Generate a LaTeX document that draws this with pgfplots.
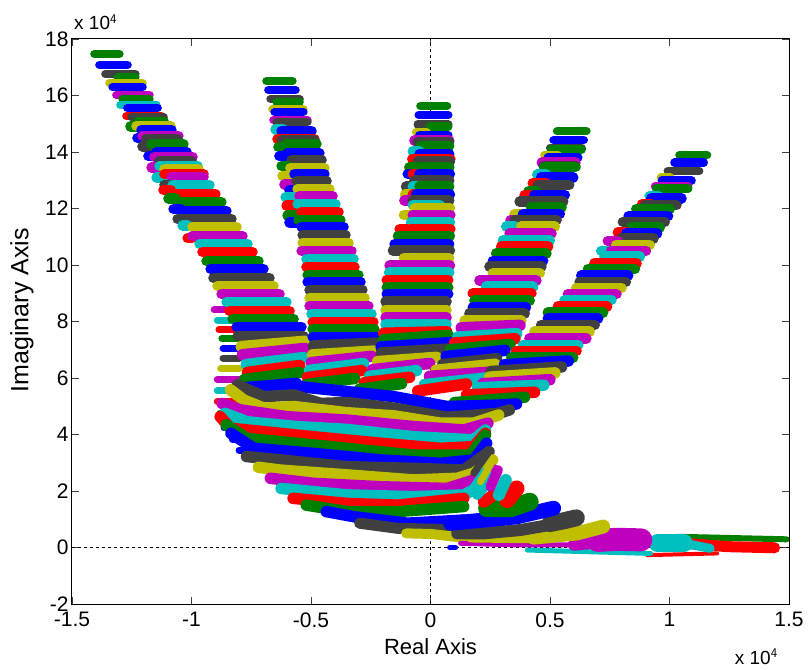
\documentclass[border=0pt]{standalone}
\usepackage{pgfplots}
\pgfplotsset{compat=1.18}
\usepackage{fontspec}
\setmainfont{Liberation Sans}
\definecolor{B}{rgb}{0,0,1}
\definecolor{G}{rgb}{0,0.5,0}
\definecolor{R}{rgb}{1,0,0}
\definecolor{C}{rgb}{0,0.75,0.75}
\definecolor{M}{rgb}{0.75,0,0.75}
\definecolor{Y}{rgb}{0.75,0.75,0}
\definecolor{K}{rgb}{0.25,0.25,0.25}
% a row: colour, left x, right x, imaginary value
\newcommand\rw[4]{\addplot[color=#1,line width=10.5pt,line cap=round,shorten <=4pt,shorten >=4pt] coordinates {(#2,#4)(#3,#4)};}
% a thin row at the top of a finger
\newcommand\rt[4]{\addplot[color=#1,line width=8.5pt,line cap=round,shorten <=4pt,shorten >=4pt] coordinates {(#2,#4)(#3,#4)};}
% a left-edge dot
\newcommand\rd[4]{\addplot[color=#1,line width=7pt,line cap=round] coordinates {(#2,#4)(#3,#4)};}
% a tilted row: colour, x1, y1, x2, y2
\newcommand\tl[5]{\addplot[color=#1,line width=11.5pt,line cap=round,shorten <=4pt,shorten >=4pt] coordinates {(#2,#3)(#4,#5)};}
% a long band: colour, width, coordinates
\newcommand\lb[3]{\addplot[color=#1,line width=#2pt,line cap=round,line join=round] coordinates {#3};}
\begin{document}
\begin{tikzpicture}[x=1pt,y=1pt]
\path[use as bounding box] (-72,-65) rectangle (736,604);
\begin{axis}[
  at={(0,0)},anchor=south west,
  scale only axis,width=717pt,height=565pt,
  xmin=-1.5,xmax=1.5,ymin=-2,ymax=18,
  xtick={-1.5,-1,-0.5,0,0.5,1,1.5},
  xticklabels={{-1.5},{-1},{-0.5},{0},{0.5},{1},{1.5}},
  ytick={-2,0,2,4,6,8,10,12,14,16,18},
  yticklabels={{-2},{0},{2},{4},{6},{8},{10},{12},{14},{16},{18}},
  tick align=inside,major tick length=7pt,
  tick style={color=K,line width=0.8pt},
  axis line style={color=black,line width=1pt},
  ticklabel style={font=\fontsize{21}{24}\selectfont},
  xticklabel style={yshift=-5pt},
  xlabel={Real Axis},ylabel={Imaginary Axis},
  every axis x label/.style={at={(axis description cs:0.5,-0.076)},anchor=center,font=\fontsize{22}{24}\selectfont},
  every axis y label/.style={at={(axis description cs:-0.07,0.52)},anchor=center,rotate=90,font=\fontsize{25}{28}\selectfont},
]
\addplot[black,dashed,line width=0.8pt] coordinates {(-1.5,0)(1.5,0)};
\addplot[black,dashed,line width=0.8pt] coordinates {(0,-2)(0,18)};
% left-edge dots of the first finger and the body
\rd{M}{-0.905}{-0.83}{8.41}
\rd{C}{-0.892}{-0.82}{8.05}
\rd{R}{-0.885}{-0.81}{7.70}
\rd{G}{-0.873}{-0.80}{7.40}
\rd{B}{-0.868}{-0.80}{7.05}
\rd{K}{-0.868}{-0.80}{6.70}
\rd{Y}{-0.878}{-0.80}{6.34}
\rd{M}{-0.892}{-0.80}{5.95}
\rd{C}{-0.892}{-0.80}{5.54}
\rd{R}{-0.892}{-0.80}{5.16}
\rd{G}{-0.882}{-0.80}{4.75}
\rd{B}{-0.864}{-0.78}{4.24}
\rd{B}{-0.829}{-0.75}{3.83}
\rd{B}{-0.801}{-0.72}{3.45}
% finger 1
\rt{G}{-1.423}{-1.285}{17.47}
\rt{B}{-1.402}{-1.251}{17.08}
\rt{K}{-1.377}{-1.218}{16.76}
\rt{G}{-1.326}{-1.218}{16.65}
\rt{Y}{-1.360}{-1.188}{16.44}
\rt{B}{-1.347}{-1.188}{16.30}
\rt{M}{-1.331}{-1.159}{16.02}
\rt{G}{-1.305}{-1.159}{15.88}
\rt{C}{-1.314}{-1.130}{15.66}
\rt{B}{-1.285}{-1.125}{15.56}
\rt{R}{-1.289}{-1.109}{15.27}
\rt{K}{-1.268}{-1.100}{15.24}
\rt{G}{-1.243}{-1.096}{15.10}
\rw{G}{-1.272}{-1.20}{14.90}
\rw{Y}{-1.247}{-1.071}{14.92}
\rw{B}{-1.226}{-1.067}{14.78}
\rw{B}{-1.243}{-1.18}{14.50}
\rw{M}{-1.222}{-1.038}{14.57}
\rw{K}{-1.205}{-1.042}{14.46}
\rw{Y}{-1.184}{-1.017}{14.11}
\rw{K}{-1.222}{-1.16}{14.20}
\rw{G}{-1.184}{-1.017}{14.28}
\rw{B}{-1.197}{-1.13}{13.85}
\rw{B}{-1.163}{-1.004}{14.00}
\rw{M}{-1.172}{-0.979}{13.83}
\rw{K}{-1.151}{-0.983}{13.68}
\rw{M}{-1.184}{-1.12}{13.45}
\rw{C}{-1.151}{-0.958}{13.51}
\rw{Y}{-1.130}{-0.954}{13.40}
\rw{C}{-1.163}{-1.10}{13.10}
\rw{R}{-1.130}{-0.933}{13.22}
\rw{M}{-1.100}{-0.933}{13.12}
\rw{K}{-1.130}{-1.06}{12.84}
\rw{C}{-1.096}{-0.908}{12.83}
\rw{R}{-1.134}{-1.07}{12.65}
\rw{R}{-1.075}{-0.883}{12.51}
\rw{G}{-1.113}{-1.05}{12.35}
\rw{G}{-1.075}{-0.858}{12.23}
\rw{B}{-1.092}{-1.03}{11.98}
\rw{B}{-1.046}{-0.837}{11.91}
\rw{K}{-1.075}{-1.00}{11.63}
\rw{K}{-1.025}{-0.816}{11.63}
\rw{C}{-1.054}{-1.00}{11.40}
\rw{Y}{-1.013}{-0.795}{11.35}
\rw{R}{-1.033}{-0.98}{10.95}
\rw{M}{-1.013}{-0.770}{11.03}
\rw{C}{-0.983}{-0.749}{10.74}
\rw{R}{-0.971}{-0.728}{10.46}
\rw{G}{-0.954}{-0.703}{10.14}
\rw{B}{-0.937}{-0.682}{9.86}
\rw{K}{-0.925}{-0.657}{9.54}
\rw{Y}{-0.908}{-0.640}{9.26}
\rw{M}{-0.891}{-0.615}{8.97}
\rw{C}{-0.870}{-0.586}{8.69}
\rw{R}{-0.858}{-0.573}{8.37}
\rw{G}{-0.845}{-0.556}{8.09}
\rw{B}{-0.828}{-0.523}{7.81}
\rw{K}{-0.824}{-0.515}{7.49}
\tl{Y}{-0.808}{7.10}{-0.510}{7.31}
\tl{M}{-0.803}{6.81}{-0.510}{7.06}
\tl{C}{-0.787}{6.46}{-0.515}{6.74}
\tl{R}{-0.782}{6.18}{-0.531}{6.46}
\tl{G}{-0.795}{5.93}{-0.531}{6.21}
\tl{B}{-0.787}{5.65}{-0.544}{5.82}
% finger 2
\rt{G}{-0.703}{-0.561}{16.51}
\rt{B}{-0.695}{-0.548}{16.19}
\rt{K}{-0.686}{-0.531}{15.88}
\rt{G}{-0.661}{-0.531}{15.77}
\rt{Y}{-0.678}{-0.515}{15.52}
\rt{B}{-0.669}{-0.515}{15.42}
\rt{M}{-0.674}{-0.498}{15.13}
\rt{K}{-0.661}{-0.498}{15.06}
\rw{C}{-0.665}{-0.60}{14.80}
\rw{B}{-0.640}{-0.481}{14.74}
\rw{R}{-0.657}{-0.469}{14.46}
\rw{K}{-0.640}{-0.469}{14.42}
\rw{G}{-0.653}{-0.59}{14.18}
\rw{G}{-0.619}{-0.460}{14.28}
\rw{B}{-0.649}{-0.58}{13.85}
\rw{B}{-0.615}{-0.448}{13.96}
\rw{K}{-0.598}{-0.439}{13.72}
\rw{G}{-0.640}{-0.58}{13.50}
\rw{Y}{-0.603}{-0.427}{13.43}
\rw{Y}{-0.636}{-0.57}{13.15}
\rw{B}{-0.586}{-0.427}{13.22}
\rw{M}{-0.628}{-0.56}{12.85}
\rw{K}{-0.577}{-0.418}{12.97}
\rw{B}{-0.607}{-0.54}{12.65}
\rw{Y}{-0.573}{-0.406}{12.69}
\rw{C}{-0.623}{-0.55}{12.40}
\rw{M}{-0.565}{-0.393}{12.44}
\rw{R}{-0.619}{-0.55}{12.10}
\rw{C}{-0.573}{-0.381}{12.16}
\rw{G}{-0.615}{-0.54}{11.75}
\rw{R}{-0.556}{-0.368}{11.88}
\rw{B}{-0.607}{-0.53}{11.50}
\rw{G}{-0.569}{-0.360}{11.59}
\rw{B}{-0.556}{-0.347}{11.35}
\rw{K}{-0.552}{-0.339}{11.06}
\rw{Y}{-0.552}{-0.326}{10.78}
\rw{M}{-0.556}{-0.314}{10.50}
\rw{C}{-0.536}{-0.305}{10.21}
\rw{R}{-0.536}{-0.301}{9.93}
\rw{G}{-0.531}{-0.285}{9.65}
\rw{B}{-0.531}{-0.276}{9.40}
\rw{K}{-0.523}{-0.268}{9.12}
\rw{Y}{-0.523}{-0.259}{8.83}
\rw{M}{-0.523}{-0.243}{8.55}
\rw{C}{-0.515}{-0.230}{8.27}
\rw{R}{-0.510}{-0.222}{7.98}
\rw{G}{-0.510}{-0.218}{7.73}
\rw{B}{-0.510}{-0.209}{7.45}
\tl{K}{-0.506}{7.13}{-0.209}{7.24}
\tl{Y}{-0.510}{6.81}{-0.222}{6.96}
\tl{M}{-0.515}{6.53}{-0.230}{6.78}
\tl{C}{-0.523}{6.25}{-0.264}{6.53}
\tl{R}{-0.531}{6.00}{-0.272}{6.28}
\tl{G}{-0.536}{5.75}{-0.301}{6.00}
% finger 3
\rt{G}{-0.059}{0.086}{15.63}
\rt{B}{-0.066}{0.091}{15.31}
\rt{K}{-0.070}{0.091}{14.98}
\rt{G}{-0.020}{0.091}{14.90}
\rt{Y}{-0.077}{0.000}{14.70}
\rt{B}{-0.063}{0.091}{14.60}
\rw{M}{-0.084}{0.095}{14.40}
\rw{K}{-0.070}{0.095}{14.35}
\rw{G}{-0.056}{0.095}{14.22}
\rw{C}{-0.091}{-0.03}{14.02}
\rw{B}{-0.063}{0.095}{13.93}
\rw{R}{-0.093}{0.100}{13.75}
\rw{K}{-0.070}{0.098}{13.67}
\rw{G}{-0.105}{-0.04}{13.46}
\rw{G}{-0.063}{0.095}{13.46}
\rw{B}{-0.112}{-0.05}{13.22}
\rw{R}{-0.091}{-0.04}{13.22}
\rw{B}{-0.063}{0.098}{13.22}
\rw{K}{-0.084}{0.095}{12.99}
\rw{K}{-0.119}{-0.05}{12.77}
\rw{C}{-0.091}{-0.04}{12.77}
\rw{G}{-0.063}{0.095}{12.77}
\rw{Y}{-0.123}{-0.06}{12.50}
\rw{R}{-0.091}{-0.04}{12.50}
\rw{B}{-0.077}{0.098}{12.50}
\rw{M}{-0.126}{-0.06}{12.28}
\rw{K}{-0.091}{0.095}{12.28}
\rw{C}{-0.091}{0.056}{12.12}
\rw{Y}{-0.084}{0.098}{12.01}
\rw{Y}{-0.128}{-0.07}{11.77}
\rw{M}{-0.091}{0.100}{11.77}
\rw{C}{-0.098}{0.098}{11.51}
\rw{R}{-0.146}{-0.08}{11.27}
\rw{R}{-0.098}{0.100}{11.27}
\rw{G}{-0.153}{0.098}{11.03}
\rw{B}{-0.167}{0.095}{10.74}
\rw{K}{-0.174}{0.098}{10.51}
\rw{Y}{-0.128}{0.095}{10.24}
\rw{M}{-0.188}{0.098}{9.98}
\rw{C}{-0.190}{0.095}{9.73}
\rw{R}{-0.200}{0.091}{9.47}
\rw{G}{-0.200}{0.091}{9.21}
\rw{B}{-0.200}{0.091}{8.97}
\rw{K}{-0.205}{0.084}{8.70}
\rw{Y}{-0.205}{0.084}{8.41}
\rw{M}{-0.205}{0.084}{8.15}
\rw{C}{-0.205}{0.084}{7.90}
\tl{R}{-0.212}{7.58}{0.084}{7.64}
\tl{G}{-0.212}{7.35}{0.091}{7.52}
\tl{B}{-0.223}{7.09}{0.098}{7.26}
\tl{K}{-0.222}{6.88}{0.084}{7.03}
\tl{Y}{-0.238}{6.57}{0.042}{6.74}
\tl{M}{-0.259}{6.28}{0.013}{6.53}
\tl{C}{-0.272}{6.04}{-0.042}{6.28}
\tl{R}{-0.293}{5.82}{-0.071}{6.04}
\tl{G}{-0.314}{5.58}{-0.105}{5.82}
% finger 4
\rt{G}{0.513}{0.669}{14.74}
\rt{B}{0.498}{0.658}{14.42}
\rt{K}{0.484}{0.649}{14.15}
\rt{G}{0.488}{0.649}{14.09}
\rt{Y}{0.460}{0.55}{13.90}
\rt{B}{0.474}{0.635}{13.80}
\rw{M}{0.449}{0.623}{13.62}
\rw{K}{0.457}{0.623}{13.50}
\rw{G}{0.460}{0.623}{13.46}
\rw{C}{0.430}{0.50}{13.20}
\rw{B}{0.446}{0.614}{13.10}
\rw{R}{0.411}{0.50}{12.90}
\rw{K}{0.432}{0.597}{12.83}
\rw{G}{0.393}{0.46}{12.60}
\rw{R}{0.377}{0.44}{12.48}
\rw{B}{0.418}{0.579}{12.48}
\rw{K}{0.356}{0.572}{12.24}
\rw{G}{0.404}{0.565}{12.04}
\rw{Y}{0.335}{0.40}{11.80}
\rw{B}{0.370}{0.558}{11.80}
\rw{M}{0.318}{0.544}{11.59}
\rw{K}{0.335}{0.544}{11.59}
\rw{C}{0.300}{0.37}{11.36}
\rw{Y}{0.363}{0.537}{11.36}
\rw{M}{0.314}{0.523}{11.12}
\rw{C}{0.286}{0.516}{10.86}
\rw{R}{0.279}{0.509}{10.65}
\rw{G}{0.258}{0.502}{10.41}
\rw{B}{0.244}{0.488}{10.15}
\rw{K}{0.230}{0.481}{9.94}
\rw{Y}{0.244}{0.474}{9.71}
\rw{M}{0.188}{0.460}{9.45}
\rw{C}{0.216}{0.446}{9.23}
\rw{R}{0.160}{0.439}{9.00}
\rw{G}{0.167}{0.432}{8.74}
\rw{B}{0.160}{0.416}{8.50}
\rw{K}{0.146}{0.411}{8.29}
\rw{Y}{0.126}{0.397}{8.03}
\tl{M}{0.112}{7.77}{0.391}{7.87}
\tl{C}{0.098}{7.44}{0.377}{7.58}
\tl{R}{0.084}{7.23}{0.370}{7.40}
\tl{G}{0.067}{6.99}{0.349}{7.20}
\tl{B}{0.049}{6.75}{0.328}{6.99}
\tl{K}{0.035}{6.46}{0.293}{6.70}
\tl{Y}{0.007}{6.26}{0.286}{6.50}
\tl{M}{-0.021}{6.05}{0.272}{6.22}
\tl{C}{-0.042}{5.75}{0.251}{6.02}
\tl{R}{-0.070}{5.52}{0.167}{5.81}
% finger 5
\rt{G}{1.025}{1.174}{13.89}
\rt{B}{1.004}{1.160}{13.62}
\rt{K}{0.976}{1.141}{13.33}
\rt{Y}{0.948}{1.02}{13.10}
\rt{B}{0.951}{1.109}{12.99}
\rt{M}{0.923}{1.095}{12.78}
\rt{G}{0.927}{1.095}{12.71}
\rw{C}{0.900}{0.97}{12.45}
\rw{B}{0.907}{1.067}{12.36}
\rw{R}{0.868}{0.94}{12.15}
\rw{K}{0.879}{1.046}{12.12}
\rw{G}{0.844}{1.018}{11.98}
\rw{B}{0.812}{1.011}{11.73}
\rw{K}{0.788}{0.997}{11.53}
\rw{G}{0.823}{0.976}{11.33}
\rw{R}{0.767}{0.84}{11.15}
\rw{B}{0.802}{0.965}{11.12}
\rw{K}{0.781}{0.950}{10.94}
\rw{M}{0.725}{0.80}{10.85}
\rw{Y}{0.760}{0.934}{10.71}
\rw{C}{0.697}{0.78}{10.50}
\rw{M}{0.739}{0.918}{10.50}
\rw{C}{0.711}{0.893}{10.30}
\rw{R}{0.669}{0.879}{10.06}
\rw{G}{0.642}{0.872}{9.86}
\rw{B}{0.614}{0.844}{9.62}
\rw{K}{0.607}{0.834}{9.40}
\rw{Y}{0.593}{0.816}{9.19}
\rw{M}{0.558}{0.795}{8.97}
\rw{C}{0.544}{0.774}{8.76}
\rw{R}{0.516}{0.756}{8.53}
\rw{G}{0.474}{0.739}{8.31}
\rw{B}{0.474}{0.718}{8.10}
\rw{K}{0.446}{0.704}{7.88}
\rw{Y}{0.418}{0.683}{7.64}
\rw{M}{0.397}{0.669}{7.40}
\rw{C}{0.370}{0.635}{7.17}
\rw{R}{0.342}{0.628}{6.96}
\rw{G}{0.321}{0.614}{6.72}
\tl{B}{0.293}{6.46}{0.593}{6.61}
\tl{K}{0.237}{6.22}{0.565}{6.40}
\tl{Y}{0.230}{6.02}{0.537}{6.19}
\tl{M}{0.202}{5.79}{0.516}{5.95}
\tl{C}{0.180}{5.65}{0.490}{5.75}
\tl{R}{0.134}{5.40}{0.452}{5.50}
\tl{G}{0.084}{5.12}{0.410}{5.33}
% long bands of the body
\lb{B}{11.5}{(-0.760,5.50)(-0.544,5.69)(-0.349,5.52)(-0.153,5.34)(0.070,4.99)(0.279,5.04)(0.360,5.08)}
\lb{K}{11.5}{(-0.809,5.75)(-0.697,5.34)(-0.572,5.40)(-0.460,5.10)(-0.349,5.13)(-0.153,4.93)(0.070,4.61)(0.286,4.75)(0.330,4.87)}
\lb{Y}{11.5}{(-0.837,5.58)(-0.781,5.22)(-0.697,4.93)(-0.572,4.99)(-0.349,4.77)(-0.153,4.66)(0.042,4.40)(0.181,4.40)(0.285,4.69)}
\lb{M}{11.5}{(-0.872,5.10)(-0.795,4.87)(-0.600,4.63)(-0.349,4.51)(-0.070,4.28)(0.139,4.16)(0.240,4.40)}
\lb{C}{11.5}{(-0.860,4.75)(-0.767,4.45)(-0.558,4.28)(-0.349,4.18)(-0.070,3.92)(0.181,3.81)(0.230,4.16)}
\lb{R}{11.5}{(-0.880,4.63)(-0.837,4.22)(-0.697,4.10)(-0.488,3.92)(-0.209,3.69)(0.042,3.51)(0.181,3.57)(0.230,4.04)}
\lb{G}{11.5}{(-0.855,4.34)(-0.767,3.86)(-0.558,3.69)(-0.349,3.51)(-0.070,3.27)(0.167,3.27)(0.230,3.98)}
\lb{B}{11.5}{(-0.835,4.04)(-0.739,3.51)(-0.488,3.33)(-0.209,3.10)(0.042,2.98)(0.181,3.10)(0.235,3.69)}
\lb{K}{11.5}{(-0.770,3.22)(-0.628,3.10)(-0.349,2.86)(-0.070,2.80)(0.139,2.74)(0.245,3.39)}
\lb{Y}{11.5}{(-0.720,2.84)(-0.628,2.74)(-0.349,2.57)(-0.070,2.39)(0.112,2.45)(0.181,2.63)(0.260,3.10)}
\lb{M}{11.5}{(-0.670,2.45)(-0.488,2.27)(-0.209,2.15)(0.070,2.09)(0.181,2.39)(0.265,2.74)}
\lb{C}{11.5}{(-0.625,2.09)(-0.349,1.86)(-0.070,1.80)(0.139,1.86)(0.181,2.04)(0.230,2.63)}
\lb{R}{11.5}{(-0.575,1.74)(-0.349,1.56)(-0.139,1.50)(0.139,1.74)}
\lb{G}{11.5}{(-0.520,1.50)(-0.349,1.27)(-0.139,1.27)(0.139,1.45)}
\lb{B}{11.5}{(-0.436,1.27)(-0.321,1.09)(-0.098,0.86)(0.139,0.97)}
\lb{K}{11}{(-0.297,0.86)(-0.139,0.68)(0.139,0.62)(0.293,0.68)}
\lb{Y}{10}{(-0.102,0.50)(0,0.48)(0.279,0.21)}
\lb{B}{5}{(0.080,0)(0.105,0)}
% the tail
\lb{G}{6}{(1.032,0.38)(1.490,0.29)}
\lb{R}{4}{(0.906,-0.27)(1.199,-0.21)}
\lb{R}{11}{(1.060,0.15)(1.241,0.03)(1.440,-0.01)}
\lb{C}{5}{(0.405,-0.09)(0.921,-0.21)}
\lb{C}{18}{(0.950,0.15)(1.060,0.15)}
\lb{C}{9}{(1.060,0.15)(1.170,-0.03)}
\lb{M}{5}{(0.126,0.15)(0.363,0.09)(0.642,0.09)}
\lb{M}{12}{(0.600,0.10)(0.700,0.18)}
\lb{M}{23}{(0.700,0.25)(0.781,0.29)(0.880,0.27)}
\lb{Y}{8}{(0.167,0.32)(0.432,0.29)}
\lb{Y}{14}{(0.432,0.35)(0.614,0.50)(0.722,0.74)}
\lb{K}{12}{(0.112,0.50)(0.223,0.50)(0.377,0.62)(0.500,0.80)}
\lb{K}{17}{(0.500,0.85)(0.560,0.95)(0.610,1.05)}
\lb{B}{15}{(0.084,0.86)(0.223,0.97)(0.363,1.09)(0.515,1.39)}
\lb{G}{18}{(0.237,1.39)(0.335,1.39)(0.415,1.62)}
\lb{R}{16}{(0.321,1.68)(0.360,2.09)}
\lb{R}{12}{(0.223,1.62)(0.265,1.86)}
\lb{C}{12}{(0.286,1.86)(0.315,2.39)}
\lb{C}{10}{(0.195,1.86)(0.237,2.27)}
\lb{M}{10}{(0.251,2.15)(0.282,2.74)}
\lb{Y}{7}{(0.209,2.33)(0.262,3.10)}
\lb{K}{7}{(0.181,2.63)(0.248,3.43)}
\end{axis}
\node[anchor=south west,inner sep=0pt,font=\fontsize{19}{24}\selectfont] at (2,574) {x 10$^{\mathsf{4}}$};
\node[anchor=base east,inner sep=0pt,font=\fontsize{19}{24}\selectfont] at (706,-60) {x 10$^{\mathsf{4}}$};
\end{tikzpicture}
\end{document}
